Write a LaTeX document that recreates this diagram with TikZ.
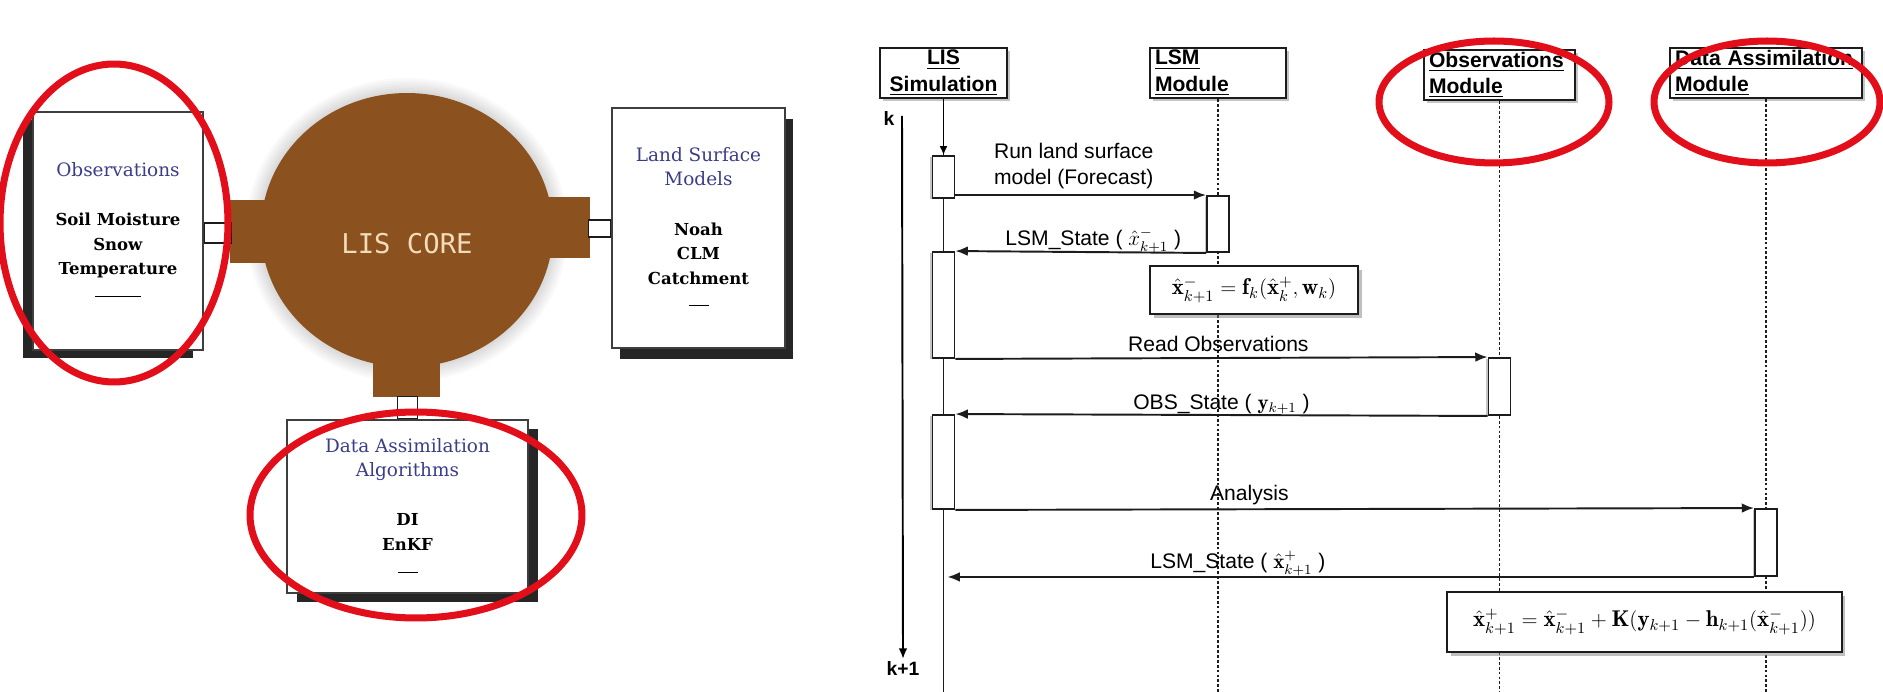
\documentclass[tikz,border=0pt]{standalone}
\usepackage{fontspec}
\usepackage{amsmath}
\usetikzlibrary{arrows.meta,positioning,shadows}
\newfontfamily\lblfont{Liberation Sans}
\newfontfamily\boxfont{DejaVu Serif}
\newfontfamily\corefont{DejaVu Sans Mono}
\definecolor{Ink}{HTML}{1C1C1C}
\definecolor{Shade}{HTML}{262626}
\definecolor{Core}{HTML}{8B511E}
\definecolor{CoreText}{HTML}{F2DCBA}
\definecolor{Title}{HTML}{3B3D88}
\definecolor{Ring}{HTML}{E20F1A}
\newcommand{\comptitle}[1]{\textcolor{Title}{\fontsize{10.5}{14}\selectfont #1}}
\tikzset{
  compbox/.style={draw=Ink!85,fill=white,line width=1pt,align=center,inner sep=0pt,font=\boxfont\fontsize{9.4}{14}\selectfont},
  port/.style={draw=Ink,fill=white,line width=0.9pt,inner sep=0pt},
  coretext/.style={text=CoreText,font=\corefont\fontsize{15.5}{18}\selectfont},
  header/.style={draw=Ink,fill=white,line width=1.1pt,minimum height=1cm,inner xsep=0.1cm,inner ysep=1pt,font=\lblfont\bfseries\fontsize{12}{15}\selectfont,drop shadow={shadow xshift=1.5pt,shadow yshift=-1.5pt,opacity=0.45}},
  act/.style={draw=Ink,fill=white,line width=1.1pt,minimum width=0.44cm,inner sep=0pt,drop shadow={shadow xshift=-1.2pt,shadow yshift=-0.8pt,opacity=0.45}},
  lifeline/.style={draw=Ink,line width=0.9pt,dash pattern=on 1.6pt off 1.2pt},
  lisline/.style={draw=Ink,line width=1.1pt},
  msg/.style={-{Latex[length=7pt,width=5.5pt]},line width=1.1pt,draw=Ink},
  msglabel/.style={font=\lblfont\fontsize{12}{15}\selectfont,inner sep=1pt,above=2pt},
  formula/.style={draw=Ink,fill=white,line width=1.2pt,font=\fontsize{13}{15}\selectfont,drop shadow={shadow xshift=2pt,shadow yshift=-2pt,opacity=0.5}},
  kfont/.style={font=\lblfont\bfseries\fontsize{11}{13}\selectfont,inner sep=1pt},
  redring/.style={draw=Ring,line width=4pt}
}

\begin{document}
\begin{tikzpicture}[x=0.02cm,y=-0.02cm]
  \fill[white] (0,0) rectangle (1883,692);
  \useasboundingbox (0,0) rectangle (1883,692);

  \foreach \rx/\ry in {3.22/3.04,3.17/2.99,3.12/2.94,3.07/2.89,3.02/2.84,2.97/2.79}
    \fill[black,opacity=0.022] (407,230) ellipse [x radius=\rx cm,y radius=\ry cm];
  \fill[Core] (407,230) ellipse [x radius=2.92cm,y radius=2.74cm];
  \fill[Core] (230,200) rectangle (300,263);
  \fill[Core] (520,197) rectangle (590,258);
  \fill[Core] (373,330) rectangle (440,397);
  \node[coretext] (core) at (407,244) {LIS CORE};

  \node[compbox,minimum width=3.4cm,minimum height=4.76cm,drop shadow={shadow xshift=-0.2cm,shadow yshift=-0.16cm,opacity=1,fill=Shade}] (obs) at (118,231)
    {\comptitle{Observations}\\[14pt] \textbf{Soil Moisture}\\ \textbf{Snow}\\ \textbf{Temperature}\\ \rule[0.3ex]{0.92cm}{0.5pt}};
  \node[compbox,minimum width=3.46cm,minimum height=4.8cm,drop shadow={shadow xshift=0.16cm,shadow yshift=-0.22cm,opacity=1,fill=Shade}] (land) at (698.5,228)
    {\comptitle{Land Surface}\\ \comptitle{Models}\\[14pt] \textbf{Noah}\\ \textbf{CLM}\\ \textbf{Catchment}\\ \rule[0.3ex]{0.4cm}{0.5pt}};
  \node[compbox,minimum width=4.82cm,minimum height=3.46cm,drop shadow={shadow xshift=0.2cm,shadow yshift=-0.18cm,opacity=1,fill=Shade}] (da) at (407.5,506.5)
    {\comptitle{Data Assimilation}\\ \comptitle{Algorithms}\\[14pt] \textbf{DI}\\ \textbf{EnKF}\\ \rule[0.3ex]{0.4cm}{0.5pt}};
  \node[port,minimum width=0.54cm,minimum height=0.4cm,anchor=west] (obsport) at (obs.east |- 0,233) {};
  \node[port,minimum width=0.44cm,minimum height=0.34cm,anchor=east] (landport) at (land.west |- 0,228.5) {};
  \node[port,minimum width=0.4cm,minimum height=0.44cm,anchor=south] (daport) at (da.north) {};

  \coordinate (bot) at (0,692);
  \node[header,text width=2.34cm,align=center] (lis) at (943.5,73) {\underline{LIS}\\\underline{Simulation}};
  \node[header,text width=2.52cm,align=left] (lsm) at (1218,73) {\underline{LSM}\\\underline{Module}};
  \node[header,text width=2.82cm,align=left] (obsm) at (1499.5,75) {\underline{Observations}\\\underline{Module}};
  \node[header,text width=3.64cm,align=left] (dam) at (1766,73) {\underline{Data Assimilation}\\\underline{Module}};
  \draw[lisline] (lis.south) -- (lis.south |- bot);
  \draw[lifeline] (lsm.south) -- (lsm.south |- bot);
  \draw[lifeline] (obsm.south) -- (obsm.south |- bot);
  \draw[lifeline] (dam.south) -- (dam.south |- bot);

  \node[act,minimum height=0.84cm] (lisA) at (lis.south |- 0,177) {};
  \node[act,minimum height=1.12cm] (lsmA) at (lsm.south |- 0,224) {};
  \node[act,minimum height=2.12cm] (lisB) at (lis.south |- 0,305) {};
  \node[act,minimum height=1.14cm] (obsA) at (obsm.south |- 0,386.5) {};
  \node[act,minimum height=1.88cm] (lisC) at (lis.south |- 0,462) {};
  \node[act,minimum height=1.34cm] (daA) at (dam.south |- 0,542.5) {};
  \coordinate (lisEnd) at (lis.south |- daA.south);

  \draw[-{Latex[length=5pt,width=4.5pt]},line width=1.1pt] (lis.south) -- (lisA.north);
  \draw[msg] (lisA.east |- lsmA.north) -- (lsmA.north west)
    node[msglabel,pos=0.143,anchor=south west,align=left] {Run land surface\\model (Forecast)};
  \draw[msg] (lsmA.south west) -- (lisB.north east)
    node[msglabel,pos=0.45,above=-2pt] {LSM\_State ( $\hat{x}^{-}_{k+1}$ )};
  \draw[msg] (lisB.south east) -- (obsA.north west)
    node[msglabel,pos=0.494] {Read Observations};
  \draw[msg] (obsA.south west) -- (lisC.north east)
    node[msglabel,pos=0.5,above=-1pt] {OBS\_State ( $\mathbf{y}_{k+1}$ )};
  \draw[msg] (lisC.south east) -- (daA.north west)
    node[msglabel,pos=0.368,above=1pt] {Analysis};
  \draw[msg] (daA.south west) -- ([xshift=0.08cm]lisEnd)
    node[msglabel,pos=0.64,above=-1pt] {LSM\_State ( $\hat{\mathbf{x}}^{+}_{k+1}$ )};

  \node[formula,minimum width=4.16cm,minimum height=0.96cm] (fcast) at (1254,290)
    {$\hat{\mathbf{x}}^{-}_{k+1}=\mathbf{f}_k(\hat{\mathbf{x}}^{+}_{k},\mathbf{w}_k)$};
  \node[formula,minimum width=7.9cm,minimum height=1.2cm] (update) at (1644.5,622)
    {$\hat{\mathbf{x}}^{+}_{k+1}=\hat{\mathbf{x}}^{-}_{k+1}+\mathbf{K}(\mathbf{y}_{k+1}-\mathbf{h}_{k+1}(\hat{\mathbf{x}}^{-}_{k+1}))$};

  \node[kfont] (kk) at (889,119) {k};
  \node[kfont] (kk1) at (903,668) {k+1};
  \coordinate (ktop) at (902,116);
  \draw[-{Latex[length=6pt,width=5pt]},line width=1.1pt] (ktop) -- (kk1.north);

  \draw[redring] (114,223) ellipse [x radius=2.28cm,y radius=3.18cm];
  \draw[redring] (416,515) ellipse [x radius=3.32cm,y radius=2.06cm];
  \draw[redring] (1494,102) ellipse [x radius=2.3cm,y radius=1.22cm];
  \draw[redring] (1767,102) ellipse [x radius=2.26cm,y radius=1.22cm];
\end{tikzpicture}
\end{document}
